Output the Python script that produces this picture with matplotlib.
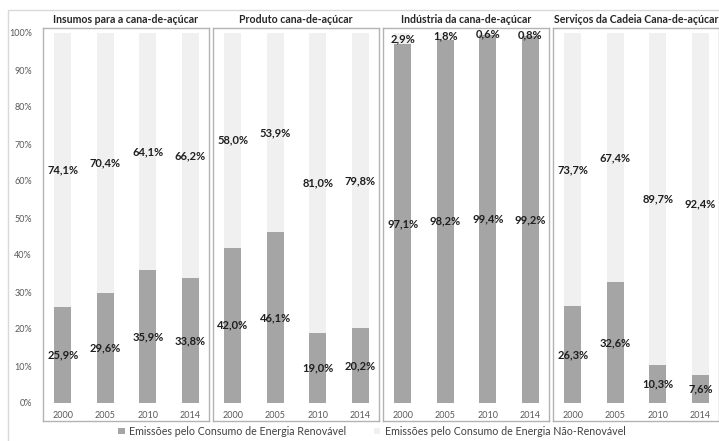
import matplotlib
matplotlib.use("Agg")
import matplotlib.pyplot as plt
from matplotlib.patches import Patch, Rectangle

plt.rcParams["font.family"] = ["Lato", "DejaVu Sans"]

# Emission shares (%) by segment and year
years = ["2000", "2005", "2010", "2014"]
panelTitles = [
	"Insumos para a cana-de-açúcar",
	"Produto cana-de-açúcar",
	"Indústria da cana-de-açúcar",
	"Serviços da Cadeia Cana-de-açúcar",
]
insumosRenov = [25.9, 29.6, 35.9, 33.8]
insumosNaoRenov = [74.1, 70.4, 64.1, 66.2]
produtoRenov = [42.0, 46.1, 19.0, 20.2]
produtoNaoRenov = [58.0, 53.9, 81.0, 79.8]
industriaRenov = [97.1, 98.2, 99.4, 99.2]
industriaNaoRenov = [2.9, 1.8, 0.6, 0.8]
servicosRenov = [26.3, 32.6, 10.3, 7.6]
servicosNaoRenov = [73.7, 67.4, 89.7, 92.4]

renovSeries = [insumosRenov, produtoRenov, industriaRenov, servicosRenov]
naoRenovSeries = [insumosNaoRenov, produtoNaoRenov, industriaNaoRenov, servicosNaoRenov]

legendLabels = [
	"Emissões pelo Consumo de Energia Renovável",
	"Emissões pelo Consumo de Energia Não-Renovável",
]

darkGray = "#a5a5a5"
lightGray = "#f0f0f0"
boxGray = "#b3b3b3"
textDark = "#1f1f1f"

W, H = 719, 441
fig = plt.figure(figsize=(W / 100, H / 100), dpi=100)

# outer chart border
fig.patches.append(Rectangle((8 / W, -0.05), 1.1, 1.05 - 10 / H, transform=fig.transFigure,
	fill=False, edgecolor="#d9d9d9", linewidth=1))

def fmt(v: float) -> str:
	return ("%.1f%%" % v).replace(".", ",")

boxTop, boxBottom = 28, 421
for i in range(4):
	left = 43 + 170 * i
	ax = fig.add_axes([left / W, 1 - boxBottom / H, 166 / W, (boxBottom - boxTop) / H])
	x = range(len(years))
	renov = renovSeries[i]
	naoRenov = naoRenovSeries[i]
	ax.bar(x, renov, width=0.4, color=darkGray, zorder=2)
	ax.bar(x, naoRenov, width=0.4, bottom=renov, color=lightGray, zorder=2)

	# value labels centred on each segment
	for xi, r, n in zip(x, renov, naoRenov):
		ax.text(xi, r / 2, fmt(r), ha="center", va="center", fontsize=8,
			fontweight="bold", color=textDark, zorder=3)
		ax.text(xi, r + n / 2, fmt(n), ha="center", va="center", fontsize=8,
			fontweight="bold", color=textDark, zorder=3)

	ax.set_xlim(-0.47, 3.436)
	ax.set_ylim(-18 / 3.7, 100 + 5 / 3.7)
	ax.set_xticks(list(x))
	ax.set_xticklabels(years)
	ax.tick_params(axis="x", length=0, pad=-7, labelsize=6.5, labelcolor="#595959")
	if i == 0:
		ax.set_yticks(range(0, 101, 10))
		ax.set_yticklabels(["%d%%" % v for v in range(0, 101, 10)])
		ax.tick_params(axis="y", length=0, pad=8, labelsize=6.5, labelcolor="#595959")
	else:
		ax.set_yticks([])
	for s in ax.spines.values():
		s.set_color(boxGray)
		s.set_linewidth(1)
	ax.set_title(panelTitles[i], fontsize=7.6, fontweight="bold", color="#262626", pad=3.5)

handles = [Patch(facecolor=darkGray), Patch(facecolor=lightGray)]
fig.legend(handles, legendLabels, loc="lower center", bbox_to_anchor=(0.517, -0.012), ncol=2,
	frameon=False, fontsize=7.7, handlelength=0.6, handleheight=0.6, handletextpad=0.4,
	columnspacing=2.6, labelcolor="#404040")

fig.savefig("out.png", dpi=100)
